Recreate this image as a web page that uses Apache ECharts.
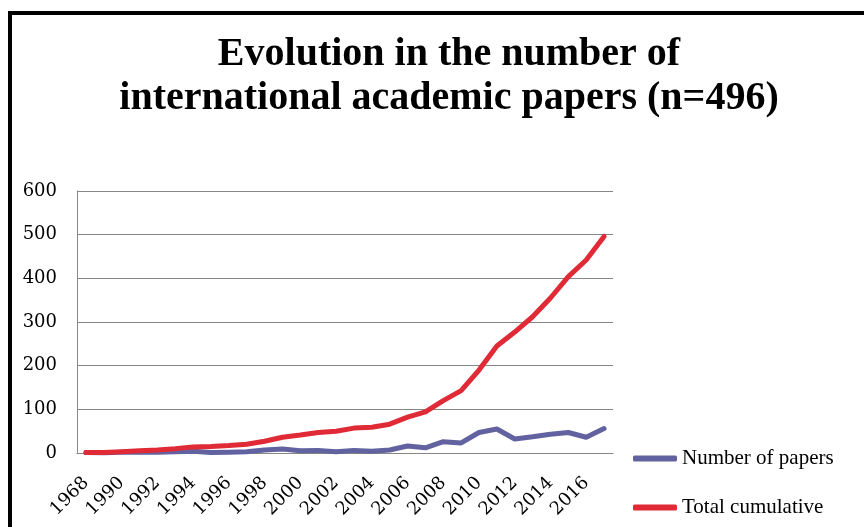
<!DOCTYPE html>
<html>
<head>
<meta charset="utf-8">
<script src="https://cdn.jsdelivr.net/npm/echarts@6/dist/echarts.min.js"></script>
<style>html,body{margin:0;padding:0;background:#fff}#c{width:864px;height:527px}</style>
</head>
<body>
<div id="c"></div>
<script>
var titleText = 'Evolution in the number of\ninternational academic papers (n=496)';
var years = ['1968','1989','1990','1991','1992','1993','1994','1995','1996','1997','1998','1999','2000','2001','2002','2003','2004','2005','2006','2007','2008','2009','2010','2011','2012','2013','2014','2015','2016','2017'];
var papers = [1,0,2,2,2,3,4,1,2,3,7,9,5,6,3,6,4,7,16,12,26,23,47,55,32,37,43,47,36,56];
var cumulative = [1,1,3,5,7,10,14,15,17,20,27,36,41,47,50,57,59,66,82,94,120,143,190,245,277,312,355,404,442,496];
var yTicks = {min:0, max:600, interval:100};

var chart = echarts.init(document.getElementById('c'));
chart.setOption({
  animation:false,
  backgroundColor:'#fff',
  title:{
    text:titleText, left:444, top:28, textAlign:'center',
    textStyle:{fontFamily:'Liberation Serif', fontWeight:'bold', fontSize:40, lineHeight:44, color:'#000'}
  },
  graphic:[{type:'rect', shape:{x:10,y:13,width:900,height:600}, style:{fill:null, stroke:'#000', lineWidth:4}, silent:true}],
  legend:{
    orient:'vertical', left:628, top:443, itemWidth:44, itemHeight:6, itemGap:28, icon:'roundRect',
    selectedMode:false,
    textStyle:{fontFamily:'Liberation Serif', fontSize:21, lineHeight:20, color:'#000'},
    data:['Number of papers','Total cumulative']
  },
  grid:{left:77, right:251, top:191, bottom:74},
  xAxis:{
    type:'category', data:years, boundaryGap:true,
    axisLine:{lineStyle:{color:'#868686', width:1}}, axisTick:{show:false},
    axisLabel:{interval:1, rotate:45, margin:27, fontFamily:'DejaVu Serif', fontSize:18, color:'#000'}
  },
  yAxis:{
    type:'value', min:yTicks.min, max:yTicks.max, interval:yTicks.interval,
    axisLine:{show:true, lineStyle:{color:'#868686', width:1}}, axisTick:{show:false},
    splitLine:{lineStyle:{color:'#868686', width:1}},
    axisLabel:{margin:20, fontFamily:'DejaVu Serif', fontSize:18, color:'#000'}
  },
  series:[
    {name:'Number of papers', type:'line', data:papers, symbol:'none', lineStyle:{color:'#6262A0', width:5, cap:'round', join:'round'}, itemStyle:{color:'#6262A0'}},
    {name:'Total cumulative', type:'line', data:cumulative, symbol:'none', lineStyle:{color:'#E02A36', width:5, cap:'round', join:'round'}, itemStyle:{color:'#E02A36'}}
  ]
});
</script>
</body>
</html>
